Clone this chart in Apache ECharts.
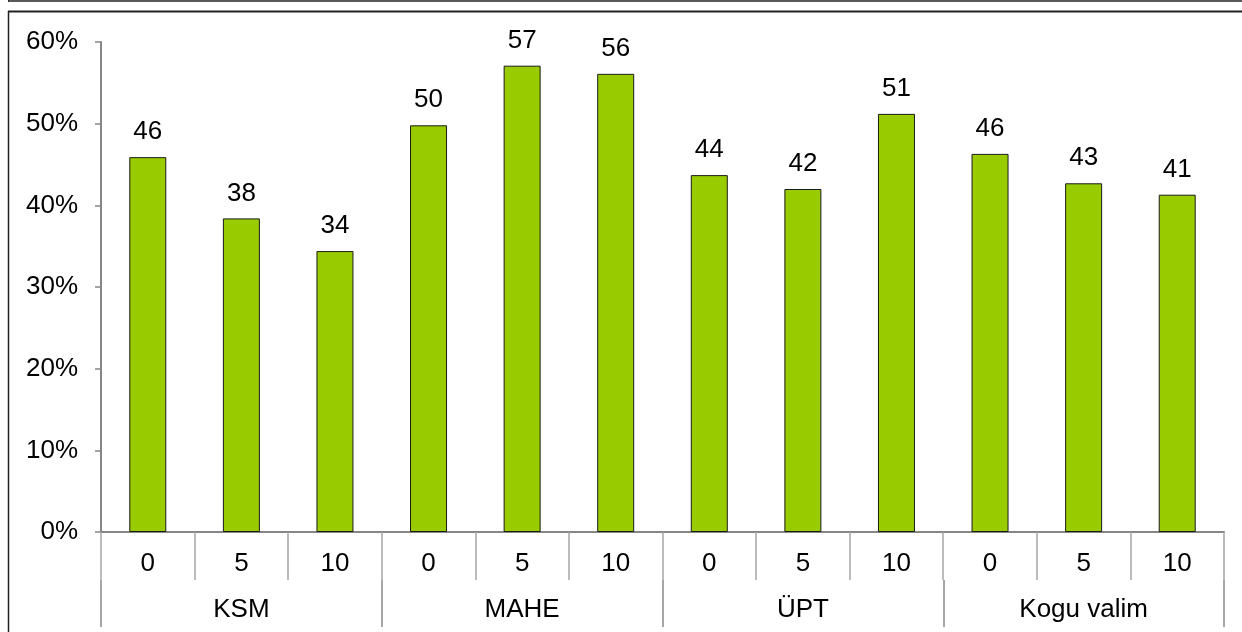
<!DOCTYPE html>
<html>
<head>
<meta charset="utf-8">
<script src="https://cdn.jsdelivr.net/npm/echarts@6/dist/echarts.min.js"></script>
<style>
  html, body { margin: 0; padding: 0; background: #fff; }
  #chart { width: 1242px; height: 632px; }
</style>
</head>
<body>
<div id="chart"></div>
<script>
// Groups along the lower axis row and the levels within each group
const groups = ['KSM', 'MAHE', 'ÜPT', 'Kogu valim'];
const levels = ['0', '5', '10'];
// Share (%) per group and level, in the same order as groups x levels
const values = [45.9, 38.4, 34.4, 49.8, 57.1, 56.1, 43.7, 42.0, 51.2, 46.3, 42.7, 41.3];
// Value axis ticks
const yMin = 0, yMax = 60, yStep = 10;

const levelCats = [];
groups.forEach(() => levels.forEach(l => levelCats.push(l)));

const font = 'Liberation Sans, Arial, sans-serif';
const fs = 26;
const axisGray = '#868686';
const sepGray = '#a6a6a6';

const chart = echarts.init(document.getElementById('chart'), null, { renderer: 'canvas' });
chart.setOption({
  animation: false,
  backgroundColor: '#ffffff',
  grid: { left: 101, right: 18, top: 42, bottom: 100, containLabel: false },
  xAxis: [
    {
      type: 'category',
      data: levelCats,
      position: 'bottom',
      axisLine: { show: true, lineStyle: { color: axisGray, width: 2 } },
      axisTick: { show: true, interval: 0, length: 48, lineStyle: { color: sepGray, width: 1.5 } },
      axisLabel: { interval: 0, margin: 19, color: '#000', fontFamily: font, fontSize: fs },
      splitLine: { show: false }
    },
    {
      type: 'category',
      data: groups,
      position: 'bottom',
      offset: 48,
      axisLine: { show: false },
      axisTick: { show: true, interval: 0, length: 47, lineStyle: { color: sepGray, width: 2 } },
      axisLabel: { interval: 0, margin: 17, color: '#000', fontFamily: font, fontSize: fs },
      splitLine: { show: false }
    }
  ],
  yAxis: {
    type: 'value',
    min: yMin,
    max: yMax,
    interval: yStep,
    axisLine: { show: true, lineStyle: { color: axisGray, width: 2 } },
    axisTick: { show: true, length: 6, lineStyle: { color: axisGray, width: 1.5 } },
    axisLabel: { margin: 23, color: '#000', fontFamily: font, fontSize: fs, formatter: '{value}%' },
    splitLine: { show: false }
  },
  series: [{
    type: 'bar',
    xAxisIndex: 0,
    data: values,
    barWidth: 37,
    itemStyle: { color: '#99cc00', borderColor: '#1a1a1a', borderWidth: 1 },
    label: {
      show: true,
      position: 'top',
      distance: 12,
      color: '#000',
      fontFamily: font,
      fontSize: fs,
      lineHeight: fs,
      formatter: p => String(Math.round(p.value))
    }
  }],
  graphic: [
    { type: 'line', shape: { x1: 8.5, y1: 0, x2: 8.5, y2: 1.5 }, style: { stroke: '#222', lineWidth: 1 } },
    { type: 'line', shape: { x1: 8, y1: 1, x2: 1242, y2: 1 }, style: { stroke: '#222', lineWidth: 1.5 } },
    { type: 'line', shape: { x1: 8, y1: 11.5, x2: 1242, y2: 11.5 }, style: { stroke: '#222', lineWidth: 2 } },
    { type: 'line', shape: { x1: 8.5, y1: 11, x2: 8.5, y2: 632 }, style: { stroke: '#222', lineWidth: 1.5 } }
  ]
});
</script>
</body>
</html>
